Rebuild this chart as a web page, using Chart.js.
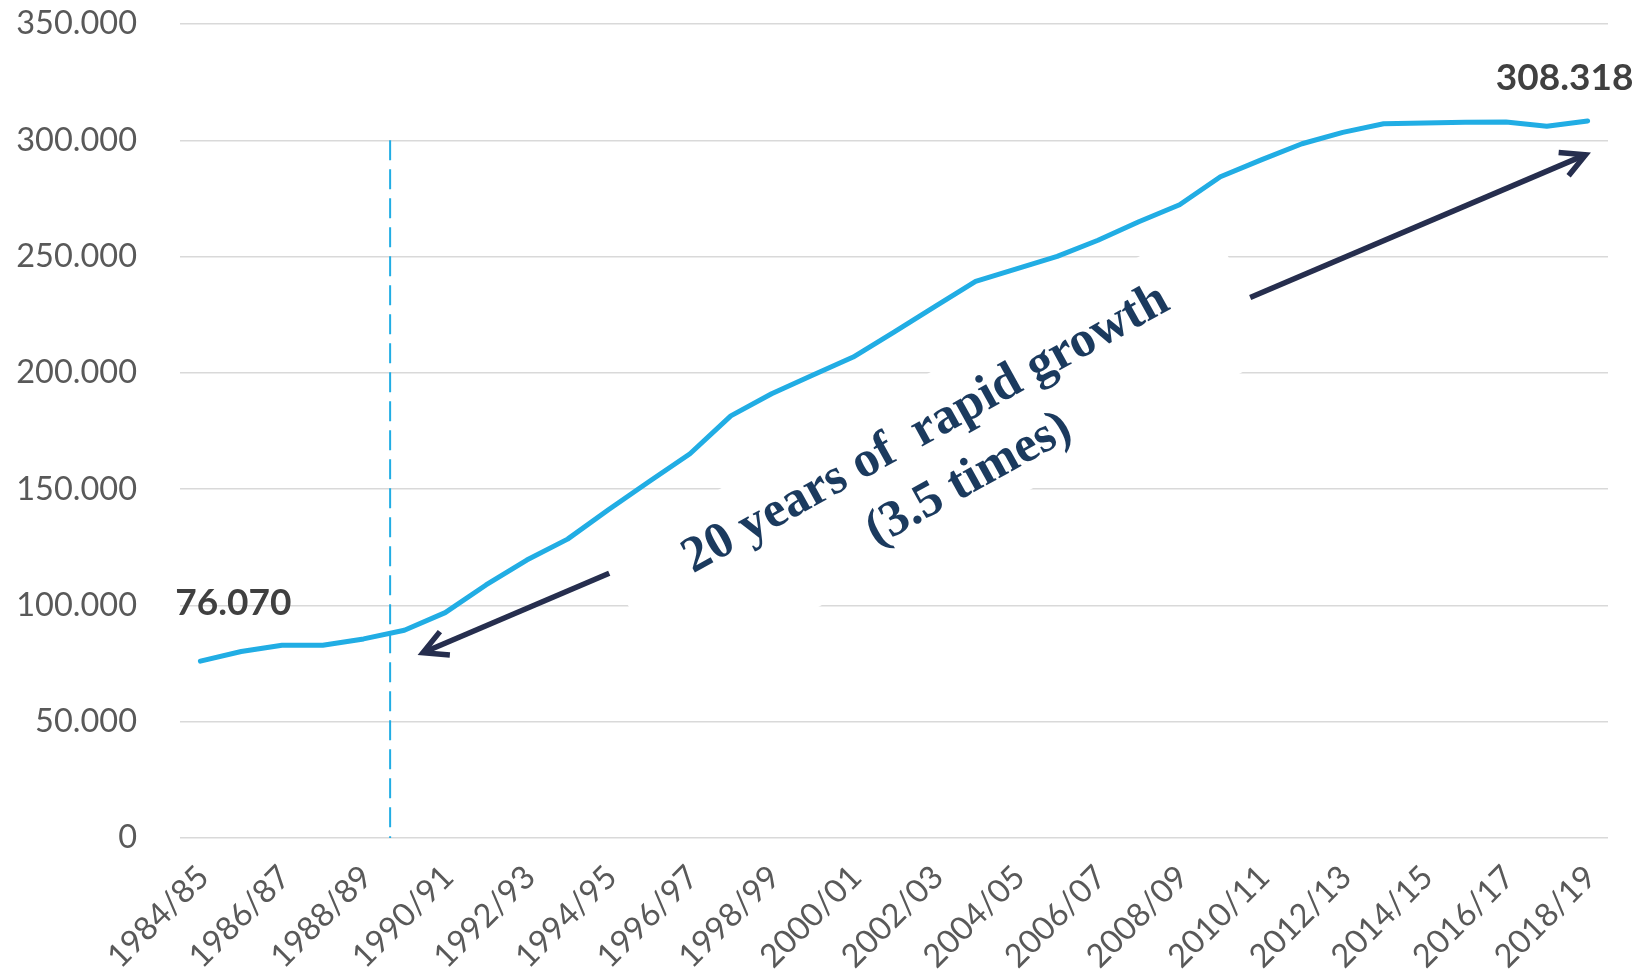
<!DOCTYPE html>
<html>
<head>
<meta charset="utf-8">
<script src="https://cdn.jsdelivr.net/npm/chart.js@4.4.1/dist/chart.umd.min.js"></script>
<style>
  html, body { margin: 0; padding: 0; background: #fff; }
  #wrap { width: 1646px; height: 979px; }
</style>
</head>
<body>
<div id="wrap"><canvas id="growthChart" width="1646" height="979"></canvas></div>
<script>
const seasons = ['1984/85', '1985/86', '1986/87', '1987/88', '1988/89', '1989/90', '1990/91',
  '1991/92', '1992/93', '1993/94', '1994/95', '1995/96', '1996/97', '1997/98', '1998/99',
  '1999/00', '2000/01', '2001/02', '2002/03', '2003/04', '2004/05', '2005/06', '2006/07',
  '2007/08', '2008/09', '2009/10', '2010/11', '2011/12', '2012/13', '2013/14', '2014/15',
  '2015/16', '2016/17', '2017/18', '2018/19'];
const production = [76070, 80200, 82900, 82900, 85600, 89300, 96900, 108800, 119500, 128500,
  141100, 153300, 165200, 181500, 191000, 199000, 206800, 217500, 228500, 239300,
  244700, 250100, 257000, 265000, 272300, 284300, 291600, 298500, 303400, 307100,
  307400, 307800, 307900, 306000, 308318];
const yMin = 0;
const yMax = 350000;
const yStep = 50000;
const startLabel = '76.070';
const endLabel = '308.318';
const noteLines = ['20 years of  rapid growth', '(3.5 times)'];

// where the extra shapes sit, in axis units (category index, value)
const marker = { index: 4.65, top: 300000 };
const arrowDown = { from: [10.02, 113860], to: [5.455, 79710] };
const arrowUp = { from: [25.73, 232410], to: [33.95, 293790] };
const noteCenter = [18.13, 165690];

const lineBlue = '#21ade4';
const arrowNavy = '#262e4e';
const textNavy = '#1b3a5e';
const tickGrey = '#595959';

function fmt(v) {
  return String(v).replace(/\B(?=(\d{3})+(?!\d))/g, '.');
}

function drawArrow(ctx, x1, y1, x2, y2) {
  const ang = Math.atan2(y1 - y2, x1 - x2);
  const arm = 27, spread = 28 * Math.PI / 180;
  ctx.save();
  ctx.strokeStyle = arrowNavy;
  ctx.lineWidth = 5.5;
  ctx.lineCap = 'butt';
  ctx.lineJoin = 'miter';
  ctx.beginPath();
  ctx.moveTo(x1, y1);
  ctx.lineTo(x2 + Math.cos(ang) * 3, y2 + Math.sin(ang) * 3);
  ctx.stroke();
  ctx.beginPath();
  ctx.moveTo(x2 + Math.cos(ang + spread) * arm, y2 + Math.sin(ang + spread) * arm);
  ctx.lineTo(x2, y2);
  ctx.lineTo(x2 + Math.cos(ang - spread) * arm, y2 + Math.sin(ang - spread) * arm);
  ctx.stroke();
  ctx.restore();
}

const extras = {
  id: 'extras',
  beforeDatasetsDraw(chart) {
    const { ctx, scales: { x, y } } = chart;
    // dashed marker line
    const mx = x.getPixelForValue(marker.index);
    ctx.save();
    ctx.strokeStyle = lineBlue;
    ctx.lineWidth = 2;
    ctx.setLineDash([20, 9]);
    ctx.beginPath();
    ctx.moveTo(mx, y.getPixelForValue(marker.top));
    ctx.lineTo(mx, y.getPixelForValue(0));
    ctx.stroke();
    ctx.restore();

    // rotated text box
    const cx = x.getPixelForValue(noteCenter[0]);
    const cy = y.getPixelForValue(noteCenter[1]);
    ctx.save();
    ctx.translate(cx, cy);
    ctx.rotate(-29 * Math.PI / 180);
    ctx.fillStyle = '#ffffff';
    ctx.fillRect(-347, -75, 694, 151);
    ctx.fillStyle = textNavy;
    ctx.font = 'bold 51px "Liberation Serif", serif';
    ctx.textAlign = 'center';
    ctx.textBaseline = 'alphabetic';
    ctx.fillText(noteLines[0], -1, -14);
    ctx.fillText(noteLines[1], 12, 51);
    ctx.restore();
  },
  afterDatasetsDraw(chart) {
    const { ctx, scales: { x, y } } = chart;
    drawArrow(ctx, x.getPixelForValue(arrowDown.from[0]), y.getPixelForValue(arrowDown.from[1]),
      x.getPixelForValue(arrowDown.to[0]), y.getPixelForValue(arrowDown.to[1]));
    drawArrow(ctx, x.getPixelForValue(arrowUp.from[0]), y.getPixelForValue(arrowUp.from[1]),
      x.getPixelForValue(arrowUp.to[0]), y.getPixelForValue(arrowUp.to[1]));

    const last = production.length - 1;
    ctx.save();
    ctx.fillStyle = '#404040';
    ctx.font = 'bold 37px Lato, sans-serif';
    ctx.textAlign = 'center';
    ctx.textBaseline = 'middle';
    ctx.fillText(startLabel, x.getPixelForValue(0) + 33, y.getPixelForValue(production[0]) - 58);
    ctx.fillText(endLabel, x.getPixelForValue(last) - 23, y.getPixelForValue(production[last]) - 43);
    ctx.restore();
  }
};

function renderChart() {
  new Chart(document.getElementById('growthChart'), {
    type: 'line',
    data: {
      labels: seasons,
      datasets: [{
        data: production,
        borderColor: lineBlue,
        borderWidth: 5,
        borderCapStyle: 'round',
        borderJoinStyle: 'round',
        pointRadius: 0,
        tension: 0,
        fill: false
      }]
    },
    options: {
      responsive: false,
      animation: false,
      layout: { padding: { top: 24, right: 38, left: 0, bottom: 0 } },
      plugins: { legend: { display: false }, tooltip: { enabled: false } },
      scales: {
        x: {
          offset: true,
          grid: { display: false },
          border: { display: false },
          afterFit(scale) {
            scale.height = 141;
            scale.paddingLeft = 0;
            scale.paddingRight = 0;
          },
          ticks: {
            autoSkip: false,
            maxRotation: 45,
            minRotation: 45,
            padding: 12,
            labelOffset: 3,
            color: tickGrey,
            font: { family: 'Lato', size: 32.5 },
            callback: (val, idx) => (idx % 2 === 0 ? seasons[idx] : '')
          }
        },
        y: {
          min: yMin,
          max: yMax,
          grid: { color: '#d9d9d9', lineWidth: 1.5, drawTicks: false },
          border: { display: false },
          afterFit(scale) {
            scale.width = 180;
            scale.paddingTop = 0;
            scale.paddingBottom = 0;
          },
          ticks: {
            stepSize: yStep,
            padding: 43,
            color: tickGrey,
            font: { family: 'Lato', size: 32.5 },
            callback: (v) => fmt(v)
          }
        }
      }
    },
    plugins: [extras]
  });
}

Promise.all([
  document.fonts.load('32px Lato'),
  document.fonts.load('bold 37px Lato'),
  document.fonts.load('bold 51px "Liberation Serif"')
]).then(renderChart, renderChart);
</script>
</body>
</html>
